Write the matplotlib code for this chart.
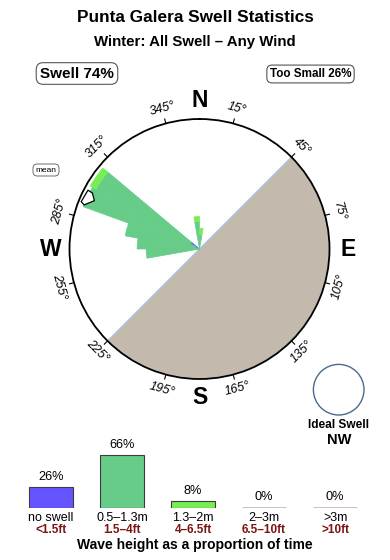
import matplotlib
matplotlib.use('Agg')
import matplotlib.pyplot as plt
import matplotlib.transforms as mtransforms
from matplotlib.patches import Circle
import numpy as np

plt.rcParams['font.family'] = ['Liberation Sans', 'DejaVu Sans']

title = 'Punta Galera Swell Statistics'
subtitle = 'Winter: All Swell \u2013 Any Wind'
swell_pct = 74
too_small_pct = 26
ideal_dir = 'NW'

# swell rose, 10 degree bins, radial length as a fraction of the circle
dir_bins = [265, 275, 285, 295, 305, 355, 5]
rose_blue = [0, 0, 0, 0.03, 0.08, 0, 0]        # no swell
rose_green = [0.41, 0.48, 0.58, 0.92, 0.84, 0.21, 0.11]   # 0.5-1.3m
rose_bright = [0, 0, 0, 0, 0.05, 0.04, 0.05]   # 1.3-2m
mean_dir = 295
land_from = 45
land_to = 225

# wave height summary
height_cats = ['no swell', '0.5\u20131.3m', '1.3\u20132m', '2\u20133m', '>3m']
height_ft = ['<1.5ft', '1.5\u20134ft', '4\u20136.5ft', '6.5\u201310ft', '>10ft']
height_pct = [26, 66, 8, 0, 0]

colors = ['#6655ff', '#66cc88', '#77ee55', '#b8b2a2', '#c8aaa2']
land_col = '#c4b9ad'
red_txt = '#7b1414'

W, H = 390, 560
fig = plt.figure(figsize=(W / 100, H / 100), dpi=100)

# overlay in pixel coords for the loose texts
ov = fig.add_axes([0, 0, 1, 1])
ov.set_xlim(0, W)
ov.set_ylim(H, 0)
ov.axis('off')

ov.text(195, 18, title, ha='center', va='center', fontsize=12.4, fontweight='bold')
ov.text(195, 42, subtitle, ha='center', va='center', fontsize=10.8, fontweight='bold')

box = dict(boxstyle='round,pad=0.25,rounding_size=0.45', fc='white', ec='#555555', lw=0.8)
ov.text(77, 73.5, 'Swell %d%%' % swell_pct, ha='center', va='center',
        fontsize=11, fontweight='bold', bbox=box)
ov.text(310.5, 74, 'Too Small %d%%' % too_small_pct, ha='center', va='center',
        fontsize=8.4, fontweight='bold', bbox=box)
ov.text(46, 170, 'mean', ha='center', va='center', fontsize=6,
        bbox=dict(boxstyle='round,pad=0.3,rounding_size=0.5', fc='white', ec='#555555', lw=0.6))

# ideal swell marker
ov.add_patch(Circle((338.7, 389.7), 25.3, fill=False, ec='#4a6a8a', lw=1.0))
ov.text(338.7, 425, 'Ideal Swell', ha='center', va='center', fontsize=8.6, fontweight='bold')
ov.text(338.7, 440.5, ideal_dir, ha='center', va='center', fontsize=10.5, fontweight='bold')

# ---- rose ----
R = 130
cx, cy = 199.5, 249
pa = fig.add_axes([(cx - R) / W, (H - cy - R) / H, 2 * R / W, 2 * R / H], projection='polar')
pa.set_theta_zero_location('N')
pa.set_theta_direction(-1)
pa.set_ylim(0, 1)
pa.set_xticks([])
pa.set_yticks([])
pa.grid(False)
pa.spines['polar'].set_linewidth(1.3)

land_w = np.radians(land_to - land_from)
pa.bar(np.radians((land_from + land_to) / 2), 1.0, width=land_w, bottom=0,
       color=land_col, edgecolor='#a9c6de', lw=1.0, zorder=1)

th = np.radians(dir_bins)
bw = np.radians(10)
bottom = np.zeros(len(dir_bins))
for seg, col in [(rose_blue, colors[0]), (rose_green, colors[1]), (rose_bright, colors[2])]:
    seg = np.array(seg)
    m = seg > 0
    pa.bar(th[m], seg[m], width=bw, bottom=bottom[m], color=col, edgecolor=col,
           lw=0.5, zorder=2)
    bottom = bottom + seg

# mean direction marker
arrow = [(2.8, 0.97), (2.6, 0.93), (-0.3, 0.89), (-4.1, 0.95), (-3.2, 0.98)]
at = [np.radians(mean_dir + d) for d, r in arrow]
ar = [r for d, r in arrow]
pa.fill(at, ar, fc='white', ec='black', lw=0.9, zorder=3)

for b in range(15, 360, 30):
    t = np.radians(b)
    pa.plot([t, t], [1.0, 1.035], color='black', lw=0.8, clip_on=False, zorder=4)
    rot = -b
    while rot <= -90:
        rot += 180
    while rot > 90:
        rot -= 180
    pa.text(t, 1.115, '%d\u00b0' % b, ha='center', va='center', rotation=rot,
            rotation_mode='anchor', fontsize=9, style='italic')

for lab, b in zip(['N', 'E', 'S', 'W'], [0, 90, 180, 270]):
    pa.text(np.radians(b), 1.145, lab, ha='center', va='center', fontsize=16.5,
            fontweight='bold')

# ---- wave height bars ----
base = 507.5
scale = 0.8  # px per percent
bx = fig.add_axes([15.25 / W, (H - base) / H, 355.5 / W, 64 / H])
bx.set_xlim(-0.5, 4.5)
bx.set_ylim(0, 64 / scale)
bx.axis('off')
for i, v in enumerate(height_pct):
    if v > 0:
        bx.bar(i, v, width=0.626, color=colors[i], edgecolor='#3c3c3c', lw=0.8)
    else:
        bx.bar(i, v, width=0.626, color=colors[i], edgecolor=colors[i], lw=1.8)
    bx.annotate('%d%%' % v, xy=(i, v), xytext=(0, 3), textcoords='offset points',
                ha='center', va='bottom', fontsize=9.2)

tr = mtransforms.blended_transform_factory(bx.transData, ov.transData)
for i in range(len(height_cats)):
    bx.text(i, 518, height_cats[i], transform=tr, ha='center', va='center', fontsize=9)
    bx.text(i, 530, height_ft[i], transform=tr, ha='center', va='center', fontsize=8.5,
            fontweight='bold', color=red_txt)
ov.text(195, 545.5, 'Wave height as a proportion of time', ha='center', va='center',
        fontsize=10, fontweight='bold')

fig.savefig('out.png', dpi=100)
